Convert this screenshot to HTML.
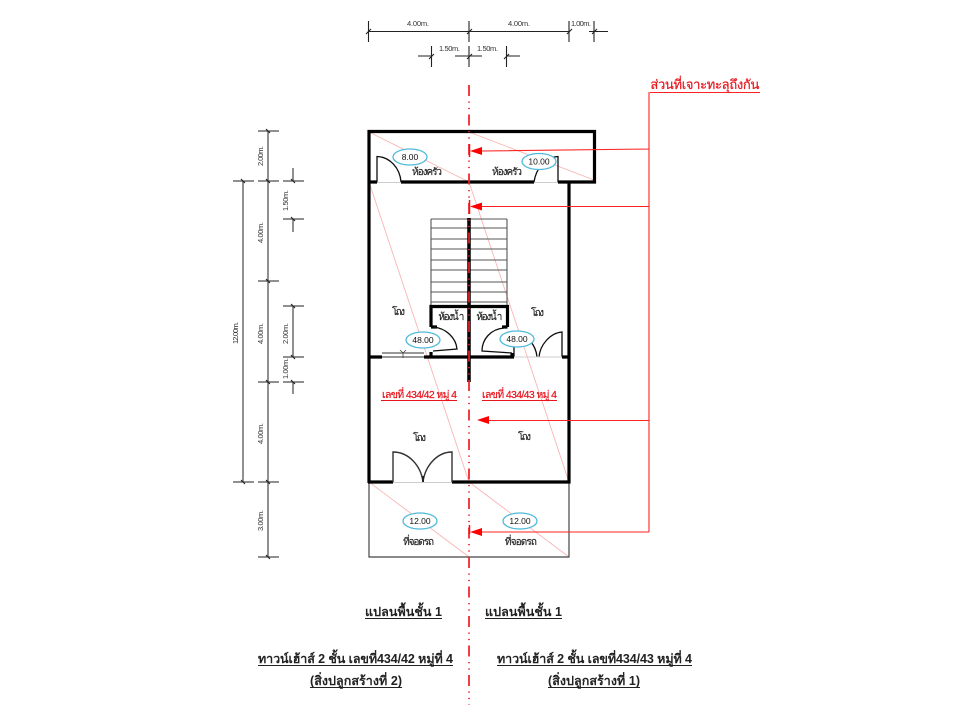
<!DOCTYPE html>
<html>
<head>
<meta charset="utf-8">
<style>
html,body{margin:0;padding:0;background:#fff;width:960px;height:720px;overflow:hidden}
svg{display:block}
text{font-family:"Liberation Sans","Noto Sans CJK SC",sans-serif}
.d{font-size:7.5px;fill:#333}
.r{font-size:10px;fill:#222;stroke:#222;stroke-width:.15}
.t{font-size:12.500px;font-weight:bold;fill:#222}
.c{font-size:8.500px;fill:#111;text-anchor:middle}
.e{fill:#fff;stroke:#4fb9da;stroke-width:1.300}
.w{stroke:#000;stroke-width:3.200;fill:none}
.v{stroke:#222;stroke-width:1.100;fill:none}
.g{stroke:#555;stroke-width:1.300;fill:none}
.p{stroke:#f9b4b4;stroke-width:.9;fill:none}
.m{stroke:#f22;stroke-width:1.100;fill:none}
.k{stroke:#111;stroke-width:1.300;fill:none}
.x{fill:#e8141c;stroke:#e8141c;stroke-width:.2}
</style>
</head>
<body>
<svg width="960" height="720" viewBox="0 0 960 720" xmlns="http://www.w3.org/2000/svg">
<defs><filter id="b" x="0" y="0" width="100%" height="100%"><feGaussianBlur stdDeviation="0.35"/></filter></defs>
<g filter="url(#b)">
<rect width="960" height="720" fill="#fff"/>
<!-- diagonals -->
<path class="p" d="M369 132L469 182M469 132L594 180M369 182L469 482M469 182L569 482M369 482L469 557M469 482L569 557"/>
<!-- parking -->
<path d="M369 482V557H569V482" fill="none" stroke="#444" stroke-width="1.200"/>
<!-- stairs -->
<path d="M431 219H507M431 228H507M431 239H507M431 249H507M431 260H507M431 270H507M431 282H507M431 292H507M431 302H507M431 219V305M507 219V305" fill="none" stroke="#555" stroke-width="1.100"/>
<!-- walls -->
<path class="w" d="M369 182V131.500H594.500V182H558M534 182H401M377 182H368"/>
<path class="w" d="M369 182V483M569 182V483" stroke-width="2.500"/>
<path class="w" d="M369 357H382M424 357H514M562 357H569.500"/>
<path class="w" d="M368 482H393M452 482H570.500"/>
<path d="M469 218V382" stroke="#000" stroke-width="3.500"/>
<path class="w" d="M431 352V357M431 327V306.500H507.500V327M431 327H437M507.500 327H502M512 353V357"/>
<!-- doors -->
<path class="k" d="M377 182V156.500C390 157 400 168 401 182"/>
<path class="k" d="M558 182V156.500C546 157 536 168 534 182"/>
<path class="k" d="M433 327C446 328 456 338 457 349L433 351"/>
<path class="k" d="M504 328C491 329 482 339 482 351L512 353"/>
<path class="k" d="M514 357V333C527 334 536 345 537 357"/>
<path class="k" d="M562 357V332C550 333 540 345 539 357"/>
<path d="M393 482V452C409 452 421 466 423 482M452 482V452C437 452 425 466 423 482" fill="none" stroke="#333" stroke-width="1.400"/>
<path d="M423 476V483" stroke="#222" stroke-width="2"/>
<path d="M377 182.500H401M534 182.500H558M393 482.500H452M514 357H562" stroke="#ccc" stroke-width="1" fill="none"/>
<path d="M382 353H424M382 357H424" stroke="#777" stroke-width="1.600" fill="none"/>
<path d="M400 350L403 353L406 350M403 353V358" stroke="#333" stroke-width=".7" fill="none"/>
<!-- centre line -->
<path d="M469 85V705" stroke="#ee1c25" stroke-width="1.700" stroke-dasharray="11 5.500 1.200 5.200 1.200 5.400"/>
<!-- red leader -->
<path class="m" d="M649 92V532M649 149L481 151M649 206.500H481M649 420.500H488M649 532H481"/>
<path d="M650 92.500H760" stroke="#f22" stroke-width="1.100"/>
<path d="M469.500 144V157M469.500 200V214M469.500 525V534" stroke="#f11" stroke-width="1.500"/>
<g fill="#f00">
<path d="M470 151L482 147V155Z"/>
<path d="M470 206.500L482 202.500V210.500Z"/>
<path d="M477 420L489 416V424Z"/>
<path d="M470 532L482 528V536Z"/>
</g>
<!-- top dimensions -->
<g class="v">
<path d="M368 31.500H569M589 31.500H608M368.500 21V42M469 21V42M569 21V42M594 21V42"/>
<path d="M418 56H431M455 56H482M506 56H520M431.500 46V67M469 46V67M506.500 46V67"/>
<path d="M366 34L371 29M467 34L472 29M567 34L572 29M592 34L597 29M429 59L434 54M467 59L472 54M504 59L509 54"/>
</g>
<!-- left dimensions -->
<g class="g">
<path d="M243 181V482M268 131V557M293 168V181M293 219V232M293 306V357M293 382V394"/>
</g>
<g class="v">
<path d="M233 181H254M258 131H279M258 181H279M283 181H304M283 219H304M258 281H279M283 306H304M283 357H304M258 382H279M283 382H304M233 482H254M258 482H279M258 557H279"/>
<path d="M241 179L245 183M266 129L270 133M266 179L270 183M291 179L295 183M291 217L295 221M266 279L270 283M291 304L295 308M291 355L295 359M266 380L270 384M291 380L295 384M241 480L245 484M266 480L270 484M266 555L270 559"/>
</g>
<!-- dimension text -->
<text class="d" x="407" y="26" textLength="22">4.00m.</text>
<text class="d" x="508" y="26" textLength="22">4.00m.</text>
<text class="d" x="571" y="26" textLength="20">1.00m.</text>
<text class="d" x="439" y="51" textLength="21">1.50m.</text>
<text class="d" x="477" y="51" textLength="21">1.50m.</text>
<text class="d" transform="translate(238,344) rotate(-90)" textLength="22">12.00m.</text>
<text class="d" transform="translate(263,166) rotate(-90)" textLength="20">2.00m.</text>
<text class="d" transform="translate(263,243) rotate(-90)" textLength="21">4.00m.</text>
<text class="d" transform="translate(263,344) rotate(-90)" textLength="21">4.00m.</text>
<text class="d" transform="translate(263,444) rotate(-90)" textLength="21">4.00m.</text>
<text class="d" transform="translate(263,531) rotate(-90)" textLength="21">3.00m.</text>
<text class="d" transform="translate(288,211) rotate(-90)" textLength="21">1.50m.</text>
<text class="d" transform="translate(288,344) rotate(-90)" textLength="21">2.00m.</text>
<text class="d" transform="translate(288,379) rotate(-90)" textLength="21">1.00m.</text>
<!-- ellipses -->
<ellipse class="e" cx="410" cy="157" rx="17" ry="8"/><text class="c" x="410" y="160">8.00</text>
<ellipse class="e" cx="539" cy="161.500" rx="17" ry="8"/><text class="c" x="539" y="164.500">10.00</text>
<ellipse class="e" cx="423" cy="340" rx="17" ry="8"/><text class="c" x="423" y="343">48.00</text>
<ellipse class="e" cx="517" cy="339" rx="17" ry="8"/><text class="c" x="517" y="342">48.00</text>
<ellipse class="e" cx="420" cy="521" rx="17" ry="8"/><text class="c" x="420" y="524">12.00</text>
<ellipse class="e" cx="520" cy="521" rx="17" ry="8"/><text class="c" x="520" y="524">12.00</text>
<!-- room labels -->
<text class="r" x="411" y="175" textLength="30">ห้องครัว</text>
<text class="r" x="491" y="175" textLength="30">ห้องครัว</text>
<text class="r" x="392" y="315" textLength="13">โถง</text>
<text class="r" x="531" y="316" textLength="13">โถง</text>
<text class="r" x="437" y="320" textLength="26">ห้องน้ำ</text>
<text class="r" x="475" y="320" textLength="26">ห้องน้ำ</text>
<text class="r" x="413" y="441" textLength="13">โถง</text>
<text class="r" x="518" y="440" textLength="13">โถง</text>
<text class="r" x="402" y="545" textLength="31">ที่จอดรถ</text>
<text class="r" x="504" y="545" textLength="32">ที่จอดรถ</text>
<!-- red labels -->
<text class="x" x="382" y="398" font-size="10.500" textLength="75">เลขที่ 434/42 หมู่ 4</text>
<path d="M381 400.500H457M482 400.500H557" stroke="#e8141c" stroke-width="1"/>
<text class="x" x="482" y="398" font-size="10.500" textLength="75">เลขที่ 434/43 หมู่ 4</text>
<text class="x" x="650" y="89" font-size="13" textLength="109">ส่วนที่เจาะทะลุถึงกัน</text>
<!-- titles -->
<text class="t" x="365" y="616" textLength="77">แปลนพื้นชั้น 1</text>
<text class="t" x="485" y="616" textLength="77">แปลนพื้นชั้น 1</text>
<text class="t" x="258" y="663" textLength="195">ทาวน์เฮ้าส์ 2 ชั้น เลขที่434/42  หมู่ที่ 4</text>
<text class="t" x="497" y="663" textLength="195">ทาวน์เฮ้าส์ 2 ชั้น เลขที่434/43  หมู่ที่ 4</text>
<text class="t" x="310" y="685" textLength="92">(สิ่งปลูกสร้างที่ 2)</text>
<text class="t" x="548" y="685" textLength="92">(สิ่งปลูกสร้างที่ 1)</text>
<path d="M365 618.500H442M485 618.500H562M258 665.500H453M497 665.500H692M310 687.500H402M548 687.500H640" stroke="#222" stroke-width="1"/>
</g>
</svg>
</body>
</html>
